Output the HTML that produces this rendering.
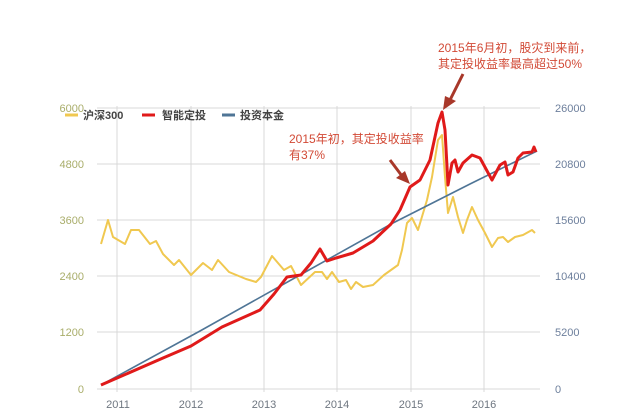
<!DOCTYPE html>
<html><head><meta charset="utf-8"><style>
html,body{margin:0;padding:0;background:#fff;}
svg{display:block;font-family:"Liberation Sans","Noto Sans CJK SC",sans-serif;}
</style></head><body>
<svg width="640" height="419" viewBox="0 0 640 419" xmlns="http://www.w3.org/2000/svg">
<rect width="640" height="419" fill="#fff"/>
<g stroke="#d8d8d8" stroke-width="1">
<line x1="97" y1="108" x2="540" y2="108"/>
<line x1="97" y1="164" x2="540" y2="164"/>
<line x1="97" y1="220" x2="540" y2="220"/>
<line x1="97" y1="276" x2="540" y2="276"/>
<line x1="97" y1="332" x2="540" y2="332"/>
<line x1="97" y1="389" x2="540" y2="389"/>
<line x1="117" y1="106" x2="117" y2="392"/>
<line x1="191" y1="106" x2="191" y2="392"/>
<line x1="264" y1="106" x2="264" y2="392"/>
<line x1="337" y1="106" x2="337" y2="392"/>
<line x1="411" y1="106" x2="411" y2="392"/>
<line x1="484" y1="106" x2="484" y2="392"/>
</g>
<g fill="#a9ad6a" font-size="11" text-anchor="end">
<text x="84" y="112">6000</text><text x="84" y="168">4800</text><text x="84" y="224">3600</text>
<text x="84" y="280">2400</text><text x="84" y="336">1200</text><text x="84" y="393">0</text>
</g>
<g fill="#6d7f9c" font-size="11">
<text x="555" y="112">26000</text><text x="555" y="168">20800</text><text x="555" y="224">15600</text>
<text x="555" y="280">10400</text><text x="555" y="336">5200</text><text x="555" y="393">0</text>
</g>
<g fill="#6e7680" font-size="11" text-anchor="middle">
<text x="118" y="408">2011</text><text x="191" y="408">2012</text><text x="264" y="408">2013</text>
<text x="337" y="408">2014</text><text x="411" y="408">2015</text><text x="484" y="408">2016</text>
</g>
<polyline fill="none" stroke="#f0c850" stroke-width="2" stroke-linejoin="round" points="101,244 108,220 113,237 125,244 131,230 139,230 150,244 156,241 163,254 174,265 179,260 191,275 203,263 212,270 218,260 229,272 246,279 256,282 261,277 272,256 284,270 291,266 301,285 315,272 322,272 327,279 332,272 339,282 346,280 351,289 356,282 363,287 373,285 384,275 398,265 402,250 407,223 412,218 418,230 427,200 432,177 438,140 442,135 445,177 448,213 453,197 458,217 463,233 467,220 472,207 478,220 485,233 492,247 498,238 503,237 508,242 515,237 523,235 532,230 535,233"/>
<polyline fill="none" stroke="#4f7596" stroke-width="1.6" points="101,385 200,331 300,275 393,223 470,184 537,151"/>
<polyline fill="none" stroke="#e01a1a" stroke-width="3" stroke-linejoin="round" points="101,385 163,358 191,346 222,327 260,310 274,294 287,277 301,275 311,263 320,249 327,261 336,258 353,253 373,241 391,224 400,210 410,187 420,180 430,160 438,123 442,112 445,130 448,185 452,163 455,160 458,172 463,163 472,155 480,158 492,180 500,165 505,162 508,175 513,172 518,158 523,153 532,152 534,147 536,152"/>
<g font-size="11" fill="#444" font-weight="bold">
<line x1="65" y1="115" x2="78" y2="115" stroke="#f0c850" stroke-width="3"/><text x="83" y="119">沪深300</text>
<line x1="142" y1="115" x2="155" y2="115" stroke="#e01a1a" stroke-width="3"/><text x="162" y="119">智能定投</text>
<line x1="222" y1="115" x2="235" y2="115" stroke="#4f7596" stroke-width="3"/><text x="240" y="119">投资本金</text>
</g>
<g fill="#d24a36" font-size="12">
<text x="438" y="52">2015年6月初，股灾到来前，</text>
<text x="438" y="68">其定投收益率最高超过50%</text>
<text x="289" y="143">2015年初，其定投收益率</text>
<text x="289" y="159">有37%</text>
</g>
<g stroke="#a8382a" stroke-width="3" fill="#a8382a">
<line x1="463" y1="74" x2="450" y2="100"/>
<polygon points="443,110 445,96 456,101" stroke="none"/>
<line x1="390" y1="160" x2="402" y2="176"/>
<polygon points="410,184 396,178 405,171" stroke="none"/>
</g>
</svg>
</body></html>
